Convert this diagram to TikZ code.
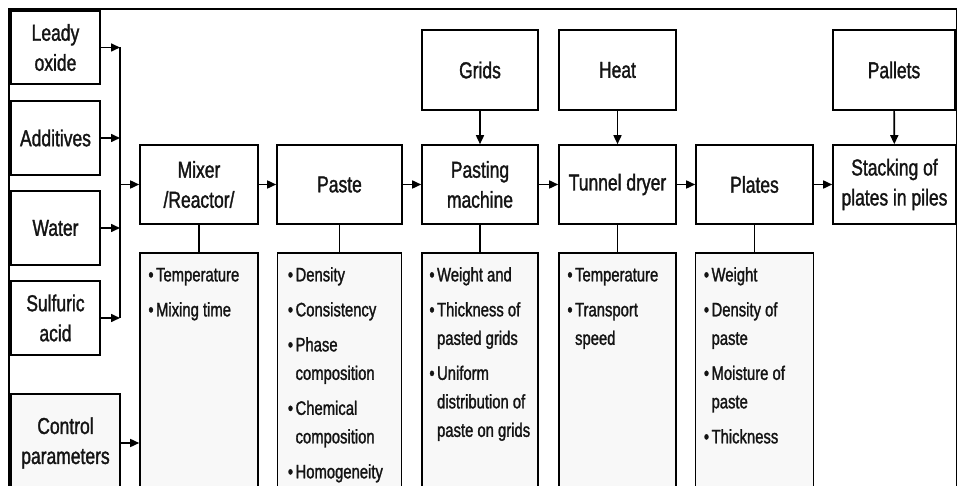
\documentclass[tikz,border=0pt]{standalone}
\usepackage{fontspec}
\setmainfont{Liberation Sans}[FakeStretch=0.76,FakeBold=1.4]
\usetikzlibrary{arrows.meta}
\definecolor{boxgray}{RGB}{248,248,248}
\definecolor{ink}{RGB}{20,20,20}
\newcommand\mainsz{\fontsize{23}{30}\selectfont}
\newcommand\paramsz{\fontsize{19.5}{28.5}\selectfont}
\tikzset{
  box/.style={draw, line width=1.6pt, fill=white, inner sep=0pt, align=center, font=\mainsz, text=ink},
  pbox/.style={draw, line width=1.6pt, fill=boxgray, inner sep=0pt},
  ptext/.style={anchor=north west, inner sep=0pt, font=\paramsz, align=left, text=ink},
  arr/.style={line width=1.6pt, -{Triangle[length=9pt,width=8pt]}},
  ln/.style={line width=1.6pt},
}
\begin{document}
\begin{tikzpicture}[x=1pt,y=-1pt]
\useasboundingbox (0,0) rectangle (958,486);
\clip (0,0) rectangle (958,486);
\fill[white] (0,0) rectangle (958,486);
% frame
\draw[line width=1.6pt] (9,496) -- (9,9) -- (956.5,9) -- (956.5,496);
% inputs
\node[box, minimum width=89pt, minimum height=73pt] (lead) at (55.5,47.5) {Leady\\oxide};
\node[box, minimum width=89pt, minimum height=74pt] (add) at (55.5,138) {Additives};
\node[box, minimum width=89pt, minimum height=74pt] (water) at (55.5,228) {Water};
\node[box, minimum width=89pt, minimum height=74pt] (sulf) at (55.5,318) {Sulfuric\\acid};
\node[box, fill=boxgray, minimum width=109pt, minimum height=98pt] (ctrl) at (65.5,443) {Control\\parameters};
% main row
\node[box, minimum width=118pt, minimum height=79pt] (mix) at (199,184.5) {Mixer\\/Reactor/};
\node[box, minimum width=125pt, minimum height=79pt] (paste) at (339.5,184.5) {Paste};
\node[box, minimum width=116pt, minimum height=79pt] (pm) at (480,184.5) {Pasting\\machine};
\node[box, minimum width=117pt, minimum height=79pt] (td) at (617.5,184.5) {Tunnel dryer};
\node[box, minimum width=117pt, minimum height=79pt] (pl) at (754.5,184.5) {Plates};
\node[box, minimum width=123pt, minimum height=79pt] (st) at (894.5,184.5) {Stacking of\\plates in piles};
% top row
\node[box, minimum width=116pt, minimum height=80pt] (grids) at (480,70) {Grids};
\node[box, minimum width=117pt, minimum height=80pt] (heat) at (617.5,70) {Heat};
\node[box, minimum width=122pt, minimum height=80pt] (pallets) at (894,70) {Pallets};
% parameter boxes
\node[pbox, minimum width=118pt, minimum height=243pt] (mixp) at (199,374.5) {};
\node[pbox, minimum width=124pt, minimum height=243pt] (pastep) at (339.5,374.5) {};
\node[pbox, minimum width=116pt, minimum height=243pt] (pmp) at (480,374.5) {};
\node[pbox, minimum width=117pt, minimum height=243pt] (tdp) at (617.5,374.5) {};
\node[pbox, minimum width=118pt, minimum height=243pt] (plp) at (754.5,374.5) {};
\node[ptext] (mixt) at ([shift={(9,9)}]mixp.north west) {\begin{tabular}{@{}l@{\hspace{2.5pt}}l@{}}
\textbullet & Temperature\\[6.5pt]
\textbullet & Mixing time
\end{tabular}};
\node[ptext] (pastet) at ([shift={(11,9)}]pastep.north west) {\begin{tabular}{@{}l@{\hspace{2.5pt}}l@{}}
\textbullet & Density\\[6.5pt]
\textbullet & Consistency\\[6.5pt]
\textbullet & Phase\\
 & composition\\[6.5pt]
\textbullet & Chemical\\
 & composition\\[6.5pt]
\textbullet & Homogeneity
\end{tabular}};
\node[ptext] (pmt) at ([shift={(8,9)}]pmp.north west) {\begin{tabular}{@{}l@{\hspace{2.5pt}}l@{}}
\textbullet & Weight and\\[6.5pt]
\textbullet & Thickness of\\
 & pasted grids\\[6.5pt]
\textbullet & Uniform\\
 & distribution of\\
 & paste on grids
\end{tabular}};
\node[ptext] (tdt) at ([shift={(9,9)}]tdp.north west) {\begin{tabular}{@{}l@{\hspace{2.5pt}}l@{}}
\textbullet & Temperature\\[6.5pt]
\textbullet & Transport\\
 & speed
\end{tabular}};
\node[ptext] (plt) at ([shift={(9,9)}]plp.north west) {\begin{tabular}{@{}l@{\hspace{2.5pt}}l@{}}
\textbullet & Weight\\[6.5pt]
\textbullet & Density of\\
 & paste\\[6.5pt]
\textbullet & Moisture of\\
 & paste\\[6.5pt]
\textbullet & Thickness
\end{tabular}};
% bus
\coordinate (bt) at (120,47.5);
\coordinate (bb) at (120,318);
\draw[ln] (bt) -- (bb);
\draw[arr] (lead.east) -- (lead.east -| bt);
\draw[arr] (add.east) -- (add.east -| bt);
\draw[arr] (water.east) -- (water.east -| bt);
\draw[arr] (sulf.east) -- (sulf.east -| bt);
\draw[arr] (mix.west -| bt) -- (mix.west);
\draw[arr] (ctrl.east) -- (ctrl.east -| mixp.west);
% flow
\draw[arr] (mix) -- (paste);
\draw[arr] (paste) -- (pm);
\draw[arr] (pm) -- (td);
\draw[arr] (td) -- (pl);
\draw[arr] (pl) -- (st);
\draw[arr] (grids) -- (pm);
\draw[arr] (heat) -- (td);
\draw[arr] (pallets) -- (st);
% to parameters
\draw[ln] (mix.south) -- (mixp.north);
\draw[ln] (paste.south) -- (pastep.north);
\draw[ln] (pm.south) -- (pmp.north);
\draw[ln] (td.south) -- (tdp.north);
\draw[ln] (pl.south) -- (plp.north);
\end{tikzpicture}
\end{document}
